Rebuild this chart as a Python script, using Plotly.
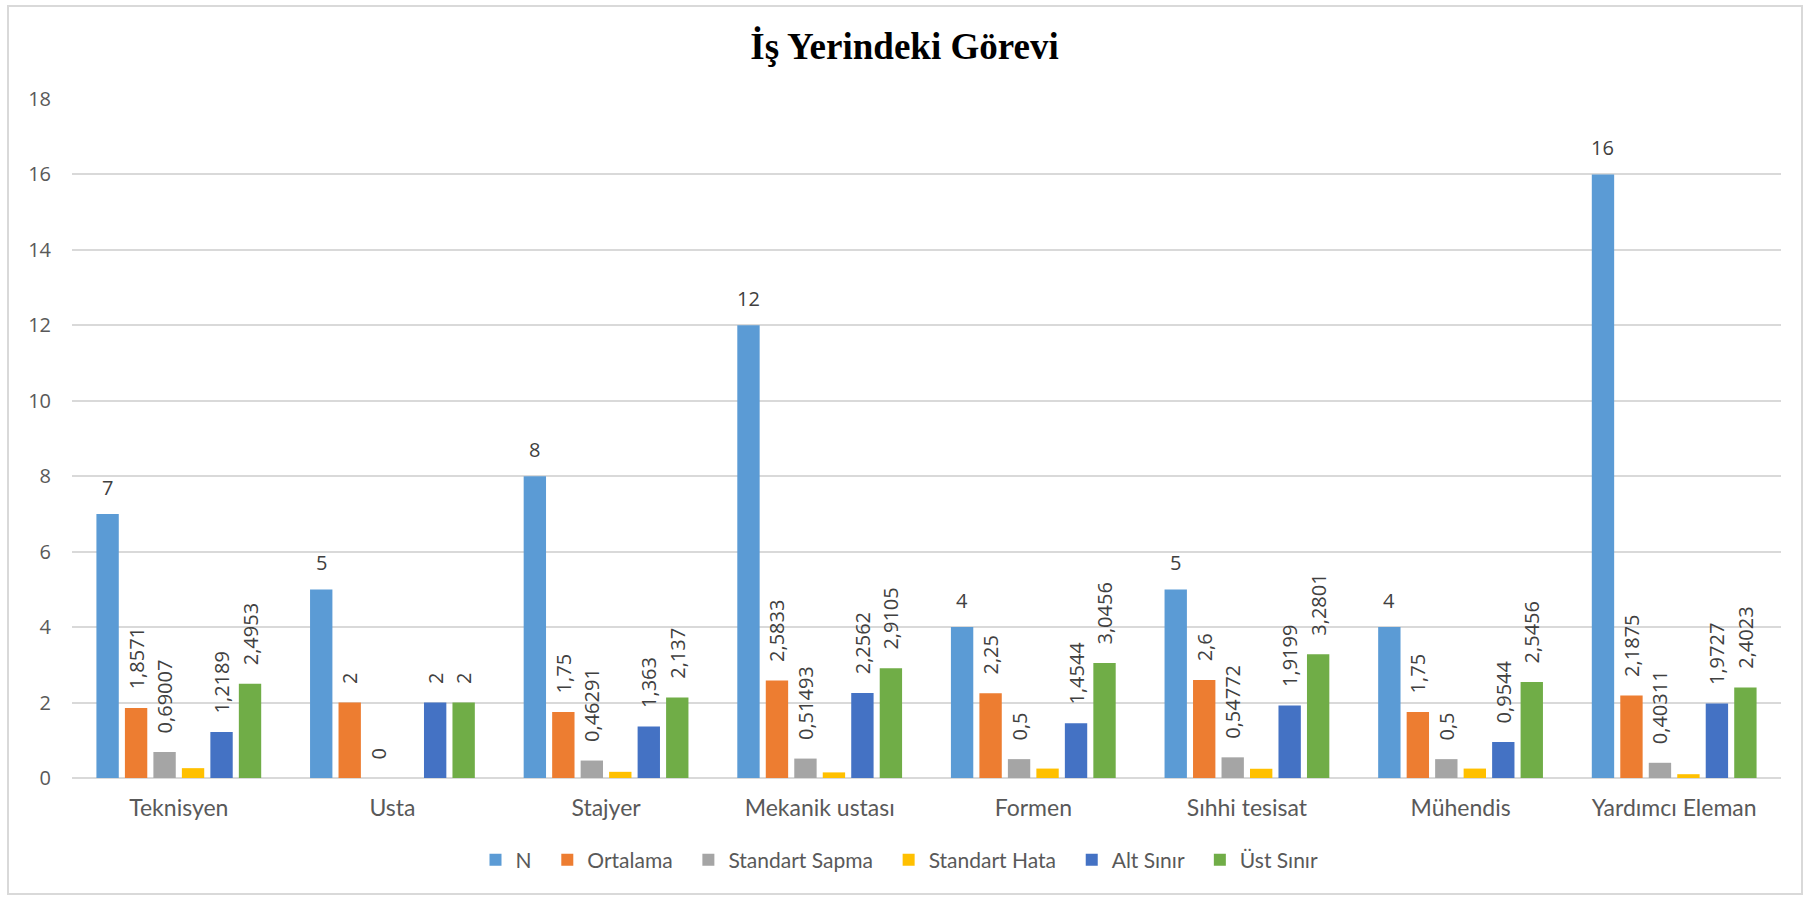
import plotly.graph_objects as go

categories = ["Teknisyen", "Usta", "Stajyer", "Mekanik ustası", "Formen",
              "Sıhhi tesisat", "Mühendis", "Yardımcı Eleman"]
n_vals = [7, 5, 8, 12, 4, 5, 4, 16]
ortalama = [1.8571, 2, 1.75, 2.5833, 2.25, 2.6, 1.75, 2.1875]
std_sapma = [0.69007, 0, 0.46291, 0.51493, 0.5, 0.54772, 0.5, 0.40311]
std_hata = [0.2608, 0, 0.1637, 0.1486, 0.25, 0.2449, 0.25, 0.1008]
alt_sinir = [1.2189, 2, 1.363, 2.2562, 1.4544, 1.9199, 0.9544, 1.9727]
ust_sinir = [2.4953, 2, 2.137, 2.9105, 3.0456, 3.2801, 2.5456, 2.4023]

# name, values, colour, label mode
series = [
    ("N", n_vals, "#5B9BD5", "ann"),
    ("Ortalama", ortalama, "#ED7D31", "rot"),
    ("Standart Sapma", std_sapma, "#A5A5A5", "rot"),
    ("Standart Hata", std_hata, "#FFC000", "none"),
    ("Alt Sınır", alt_sinir, "#4472C4", "rot"),
    ("Üst Sınır", ust_sinir, "#70AD47", "rot"),
]

def fmt(v):
    return ("%g" % v).replace(".", ",")

W, H = 1809, 899
ML, MR, MT, MB = 72, 28, 99, 121
LBL_FONT = dict(family="Open Sans, sans-serif", size=20, color="#404040")
PAD = "\u00a0\u00a0\u00a0"

fig = go.Figure()
for name, vals, color, mode in series:
    if mode == "rot":
        kw = dict(text=[PAD + fmt(v) for v in vals], textposition="outside",
                  textangle=-90, constraintext="none", cliponaxis=False,
                  textfont=LBL_FONT)
    else:
        kw = dict(textposition="none")
    fig.add_trace(go.Bar(name=name + "\u00a0\u00a0", x=categories, y=vals,
                         marker=dict(color=color, line=dict(width=0)), **kw))

pw = W - ML - MR
ph = H - MT - MB
cat_w = pw / len(categories)
bargap = 0.2
slot = cat_w * (1 - bargap) / len(series)
n_shift = -2.5 * slot  # centre of the first bar in each group

for c, v in zip(categories, n_vals):
    fig.add_annotation(x=c, y=v, xref="x", yref="y", text=fmt(v), showarrow=False,
                       xanchor="center", yanchor="bottom", xshift=n_shift, yshift=11,
                       font=LBL_FONT)

def px2x(p): return (p - ML) / pw
def px2y(p): return (H - MB - p) / ph

fig.add_shape(type="rect", xref="paper", yref="paper",
              x0=px2x(8), x1=px2x(1802), y0=px2y(894), y1=px2y(6),
              line=dict(color="#D9D9D9", width=2), layer="below")

fig.update_layout(
    width=W, height=H,
    margin=dict(l=ML, r=MR, t=MT, b=MB, autoexpand=False),
    paper_bgcolor="white", plot_bgcolor="white",
    barmode="group", bargap=bargap, bargroupgap=0.215,
    title=dict(text="<b>İş Yerindeki Görevi</b>", x=0.5, xanchor="center",
               xref="container", yref="container",
               y=1 - 46 / H, yanchor="middle",
               font=dict(family="Liberation Serif, Times New Roman, serif", size=37, color="black")),
    xaxis=dict(showgrid=False, showline=False, ticks="", automargin=False,
               ticklabelstandoff=14,
               tickfont=dict(family="Lato, sans-serif", size=23, color="#595959")),
    yaxis=dict(range=[0, 18], dtick=2, showgrid=True, gridcolor="#D9D9D9", gridwidth=1.8,
               zeroline=True, zerolinecolor="#D9D9D9", zerolinewidth=1.8,
               ticks="", automargin=False, ticklabelstandoff=20,
               tickfont=dict(family="Open Sans, sans-serif", size=20, color="#595959")),
    legend=dict(orientation="h", x=0.5, xanchor="center", xref="container",
                y=1 - 860 / H, yanchor="middle", yref="container",
                font=dict(family="Lato, sans-serif", size=21, color="#595959"),
                itemwidth=30, traceorder="normal"),
)

fig.write_html("out.html", config={"displayModeBar": False},
               post_script="document.body.style.margin='0';document.body.style.overflow='hidden';")
